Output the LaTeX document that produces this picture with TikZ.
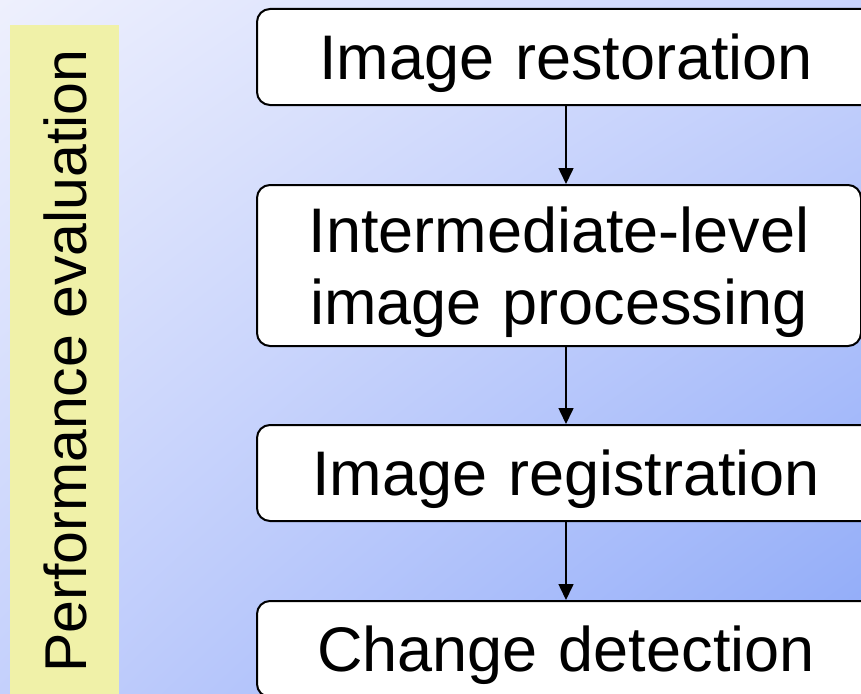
\documentclass[tikz,border=0pt]{standalone}
\usepackage{fontspec}
\setmainfont{Liberation Sans}
\usetikzlibrary{arrows.meta,positioning,shadings}
\definecolor{bgtl}{RGB}{238,240,253}
\definecolor{bgtr}{RGB}{200,211,252}
\definecolor{bgbl}{RGB}{196,208,252}
\definecolor{bgbr}{RGB}{140,168,248}
\definecolor{barfill}{RGB}{240,241,168}
\tikzset{
  stagebox/.style={draw,line width=2pt,rounded corners=13pt,fill=white,align=center,inner sep=0pt,text width=618pt,text depth=0pt,minimum height=96pt,font=\fontsize{63}{72}\selectfont},
  barbox/.style={fill=barfill,inner sep=0pt,minimum width=109pt,minimum height=690pt},
  flow/.style={-{Triangle[length=16pt,width=15pt]},line width=1.6pt}
}

\begin{document}
\begin{tikzpicture}[x=1pt,y=-1pt]
\useasboundingbox (0,0) rectangle (861,693);
\clip (0,0) rectangle (861,693);
\shade[upper left=bgtl,upper right=bgtr,lower left=bgbl,lower right=bgbr] (0,0) rectangle (861,693);
\node[barbox,anchor=north west] (bar) at (10,25) {};
\node[rotate=90,font=\fontsize{59}{60}\selectfont] (perf) at (65,361) {Performance evaluation};
\node[stagebox] (restore) at (566,57) {Image restoration};
\node[stagebox,text width=604pt,text depth=72pt,minimum height=161pt] (inter) at (559,265.5) {Intermediate-level\\image processing};
\node[stagebox] (regist) at (566,473) {Image registration};
\node[stagebox] (change) at (566,649) {Change detection};
\draw[flow] (restore.south) -- (restore.south |- inter.north);
\draw[flow] (restore.south |- inter.south) -- (regist.north);
\draw[flow] (regist.south) -- (change.north);
\end{tikzpicture}
\end{document}
